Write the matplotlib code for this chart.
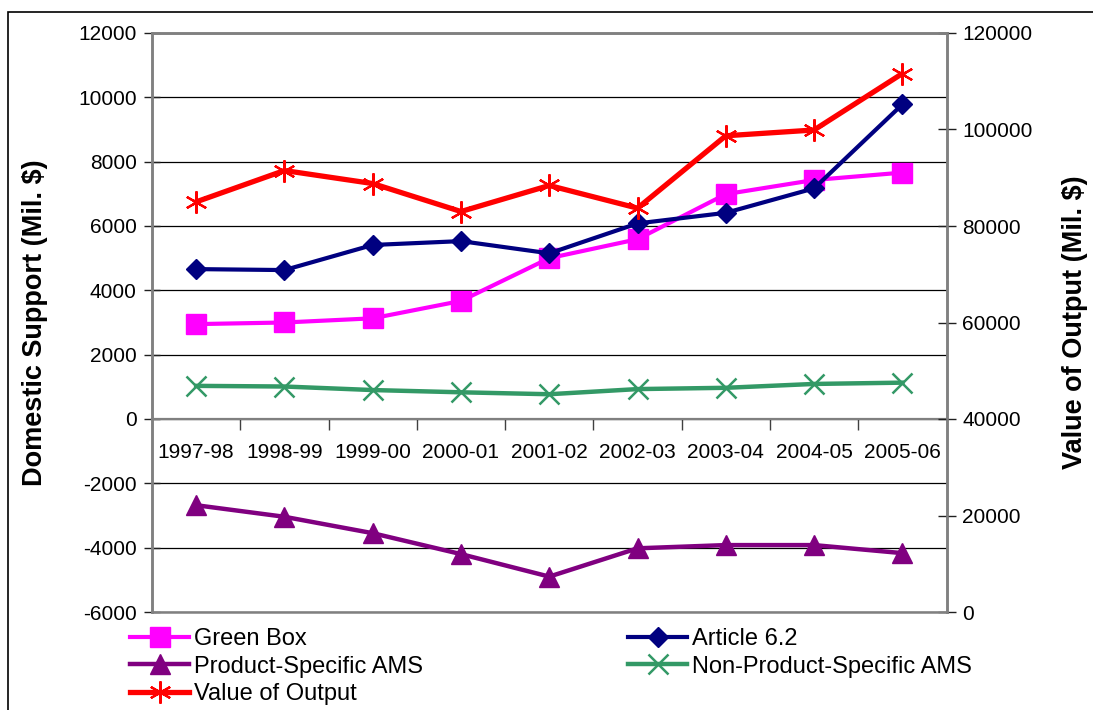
import matplotlib
matplotlib.use("Agg")
import matplotlib.pyplot as plt
from matplotlib.patches import Rectangle
from matplotlib.ticker import MultipleLocator, FixedLocator

plt.rcParams['font.family'] = ['Liberation Sans', 'DejaVu Sans']
plt.rcParams['axes.unicode_minus'] = False

# Marketing years
years = ['1997-98', '1998-99', '1999-00', '2000-01', '2001-02',
         '2002-03', '2003-04', '2004-05', '2005-06']

# Domestic support components (Mil. $)
green_box = [2950, 3000, 3130, 3670, 5000, 5590, 6990, 7430, 7660]
article_62 = [4660, 4630, 5410, 5530, 5150, 6080, 6410, 7170, 9780]
product_specific_ams = [-2680, -3040, -3550, -4200, -4900, -4020, -3920, -3920, -4170]
non_product_specific_ams = [1030, 1010, 900, 830, 770, 930, 970, 1090, 1130]

# Value of output (Mil. $), right axis
value_of_output = [85000, 91500, 88800, 83000, 88400, 83700, 98700, 99900, 111600]

W, H = 1093, 710
fig = plt.figure(figsize=(W / 100, H / 100), dpi=100)

# outer chart border
fig.add_artist(Rectangle((8 / W, -0.1), 1.2, 1 - 12 / H + 0.1,
                         transform=fig.transFigure, fill=False,
                         edgecolor='black', linewidth=1.2))

left, right, top, bottom = 152, 946.5, 33, 612
ax = fig.add_axes([left / W, 1 - bottom / H, (right - left) / W, (bottom - top) / H])
ax2 = ax.twinx()

x = list(range(len(years)))
tick_fs = 15
label_fs = 19.5
grey = '#808080'

ax.set_xlim(-0.5, len(years) - 0.5)
ax.set_ylim(-6000, 12000)
ax2.set_ylim(0, 120000)

ax.yaxis.set_major_locator(MultipleLocator(2000))
ax2.yaxis.set_major_locator(MultipleLocator(20000))
ax.grid(axis='y', color='black', linewidth=0.9)
ax.set_axisbelow(True)

# category axis sits on the zero line
ax.spines['bottom'].set_position(('data', 0))
ax.spines['bottom'].set_color(grey)
ax.spines['bottom'].set_linewidth(1.6)
ax.set_xticks(x)
ax.set_xticklabels(years, fontsize=tick_fs)
ax.xaxis.set_minor_locator(FixedLocator([i + 0.5 for i in x[:-1]]))
ax.tick_params(axis='x', which='major', length=0, pad=17)
ax.tick_params(axis='x', which='minor', length=8, direction='out', width=1, color='#404040')

for sp in ['left', 'top', 'right']:
    ax.spines[sp].set_color(grey)
    ax.spines[sp].set_linewidth(1.8)
for sp in ['left', 'top', 'right', 'bottom']:
    ax2.spines[sp].set_color(grey)
    ax2.spines[sp].set_linewidth(1.8)

ax.tick_params(axis='y', direction='inout', length=12, width=1, color='#202020',
               labelsize=tick_fs, pad=5)
ax2.tick_params(axis='y', direction='inout', length=13, width=1, color='#202020',
                labelsize=tick_fs, pad=5)

ax.set_ylabel('Domestic Support (Mil. $)', fontsize=label_fs, fontweight='bold')
ax.yaxis.set_label_coords((48 - left) / (right - left), 0.5)
ax2.set_ylabel('Value of Output (Mil. $)', fontsize=label_fs, fontweight='bold',
               rotation=90)
ax2.yaxis.set_label_coords((1062 - left) / (right - left), 0.5)

l1, = ax.plot(x, green_box, color='#FF00FF', linewidth=3, marker='s',
              markersize=14, label='Green Box', zorder=3)
l2, = ax.plot(x, article_62, color='#000080', linewidth=3, marker='D',
              markersize=10, label='Article 6.2', zorder=4)
l3, = ax.plot(x, product_specific_ams, color='#800080', linewidth=3.2, marker='^',
              markersize=15, label='Product-Specific AMS', zorder=3)
l4, = ax.plot(x, non_product_specific_ams, color='#339966', linewidth=3.2, marker='x',
              markersize=14, markeredgewidth=1.8, label='Non-Product-Specific AMS', zorder=3)
l5, = ax2.plot(x, value_of_output, color='#FF0000', linewidth=3.8, marker=(6, 2, 0),
               markersize=16, markeredgewidth=1.6, label='Value of Output', zorder=3)

handles = [l1, l3, l5, l2, l4]
fig.legend(handles, [h.get_label() for h in handles], ncol=2,
           loc='upper left', bbox_to_anchor=(130 / W, 1 - 628 / H),
           frameon=False, fontsize=17, handlelength=2.5, handletextpad=0.2,
           labelspacing=0.24, columnspacing=8.7, borderpad=0, borderaxespad=0)

fig.savefig('out.png', dpi=100)
